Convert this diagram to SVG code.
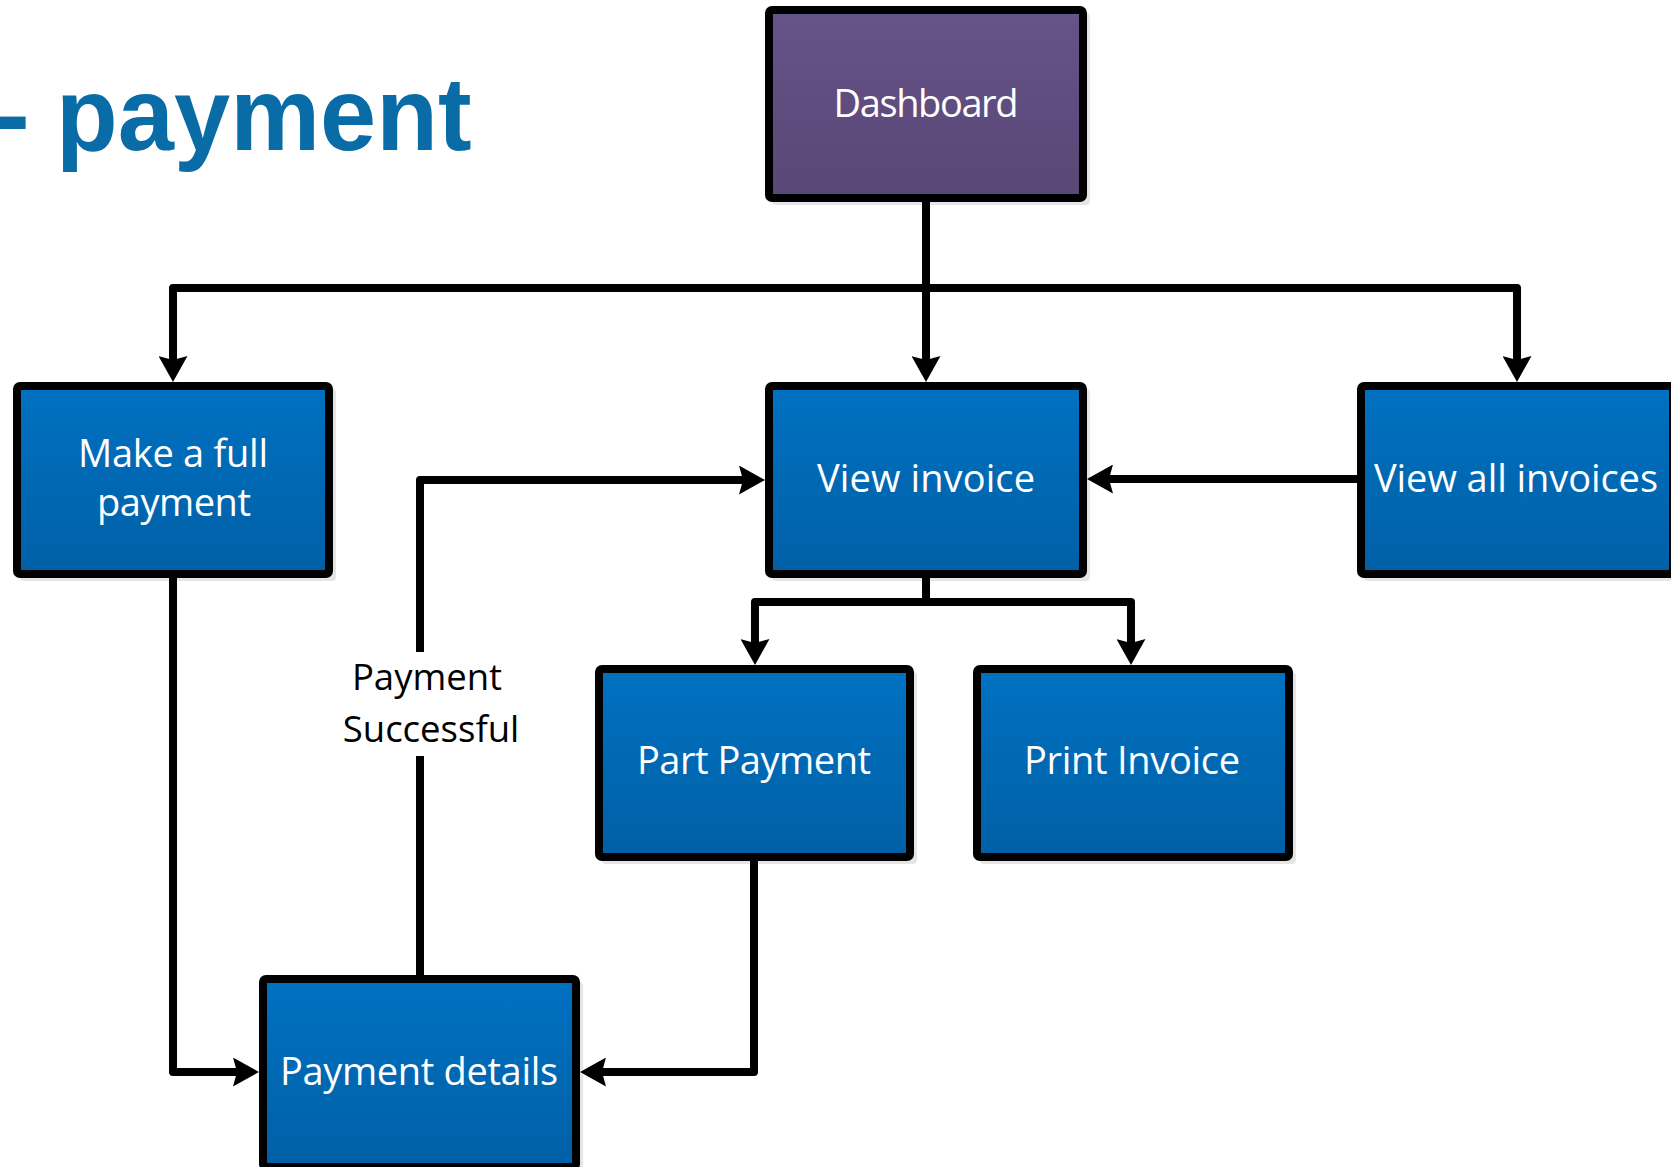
<svg xmlns="http://www.w3.org/2000/svg" width="1671" height="1167" viewBox="0 0 1671 1167">
<style>
.box{stroke:#000;stroke-width:8;stroke-linejoin:round}
.blue{fill:url(#gBlue)}
.purple{fill:url(#gPurple)}
.shadow{fill:#000;opacity:0.1}
.lbl{font-family:"Open Sans","Noto Sans","DejaVu Sans",sans-serif;font-size:38px;fill:#fff;text-anchor:middle}
.note{font-family:"Open Sans","Noto Sans","DejaVu Sans",sans-serif;font-size:36.5px;fill:#000;text-anchor:middle}
.title{font-family:"Liberation Sans",Arial,sans-serif;font-weight:bold;font-size:104px;fill:#0a6ca6}
.conn{fill:none;stroke:#000;stroke-width:8;stroke-linejoin:round}
</style>
<defs>
<linearGradient id="gBlue" x1="0" y1="0" x2="0" y2="1">
<stop offset="0" stop-color="#0071c1"/>
<stop offset="1" stop-color="#0060a6"/>
</linearGradient>
<linearGradient id="gPurple" x1="0" y1="0" x2="0" y2="1">
<stop offset="0" stop-color="#665389"/>
<stop offset="1" stop-color="#594776"/>
</linearGradient>
<marker id="arr" viewBox="0 0 26 29" refX="12" refY="14.5" markerWidth="26" markerHeight="29" markerUnits="userSpaceOnUse" orient="auto">
<path d="M26,14.5 L0,0 L4,14.5 L0,29 Z" fill="#000"/>
</marker>
</defs>
<rect width="1671" height="1167" fill="#fff"/>

<text class="title" transform="scale(0.972,1)" y="150"><tspan x="-4.1">- </tspan><tspan x="57.6">payment</tspan></text>

<g id="connectors">
<path class="conn" d="M926,202 V368" marker-end="url(#arr)"/>
<path class="conn" d="M926,288 H173 V368" marker-end="url(#arr)"/>
<path class="conn" d="M926,288 H1517 V368" marker-end="url(#arr)"/>
<path class="conn" d="M926,577 V602 H755 V651" marker-end="url(#arr)"/>
<path class="conn" d="M926,602 H1131 V651" marker-end="url(#arr)"/>
<path class="conn" d="M1357,479 H1101" marker-end="url(#arr)"/>
<path class="conn" d="M173,578 V1072 H245" marker-end="url(#arr)"/>
<path class="conn" d="M754,861 V1072 H594" marker-end="url(#arr)"/>
<path class="conn" d="M420,975 V756"/>
<path class="conn" d="M420,652 V480 H751" marker-end="url(#arr)"/>
<text class="note" x="427" y="690">Payment</text>
<text class="note" x="431" y="742">Successful</text>
</g>

<g id="dashboard">
<rect class="shadow" x="772" y="13" width="318" height="192" rx="4"/>
<rect class="box purple" x="769" y="10" width="314" height="188" rx="3"/>
<text class="lbl" x="926" y="117" textLength="185">Dashboard</text>
</g>

<g id="make-full-payment">
<rect class="shadow" x="20" y="389" width="316" height="192" rx="4"/>
<rect class="box blue" x="17" y="386" width="312" height="188" rx="3"/>
<text class="lbl" x="173" y="467" textLength="190">Make a full</text>
<text class="lbl" x="174" y="516" textLength="154">payment</text>
</g>

<g id="view-invoice">
<rect class="shadow" x="772" y="389" width="318" height="192" rx="4"/>
<rect class="box blue" x="769" y="386" width="314" height="188" rx="3"/>
<text class="lbl" x="926" y="492" textLength="218">View invoice</text>
</g>

<g id="view-all-invoices">
<rect class="shadow" x="1364" y="389" width="316" height="192" rx="4"/>
<rect class="box blue" x="1361" y="386" width="312" height="188" rx="3"/>
<text class="lbl" x="1516" y="492" textLength="284">View all invoices</text>
</g>

<g id="part-payment">
<rect class="shadow" x="602" y="672" width="315" height="192" rx="4"/>
<rect class="box blue" x="599" y="669" width="311" height="188" rx="3"/>
<text class="lbl" x="754" y="774" textLength="234">Part Payment</text>
</g>

<g id="print-invoice">
<rect class="shadow" x="980" y="672" width="316" height="192" rx="4"/>
<rect class="box blue" x="977" y="669" width="312" height="188" rx="3"/>
<text class="lbl" x="1132" y="774" textLength="216">Print Invoice</text>
</g>

<g id="payment-details">
<rect class="shadow" x="266" y="982" width="317" height="192" rx="4"/>
<rect class="box blue" x="263" y="979" width="313" height="188" rx="3"/>
<text class="lbl" x="419" y="1085" textLength="278">Payment details</text>
</g>
</svg>
